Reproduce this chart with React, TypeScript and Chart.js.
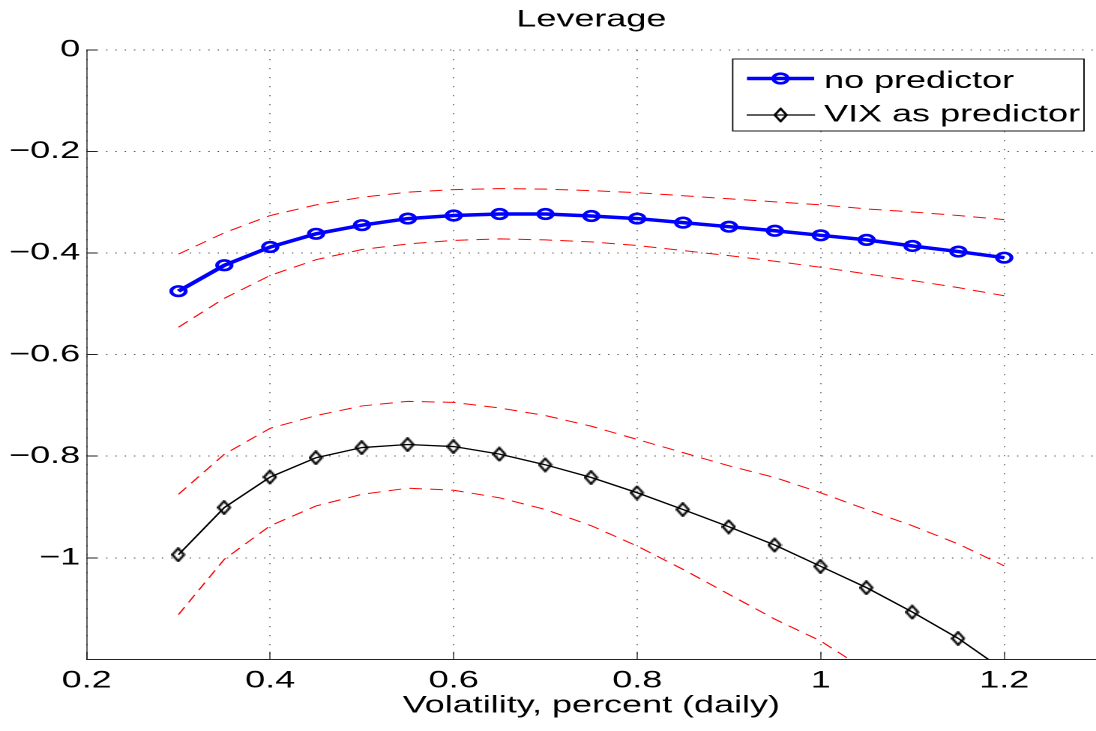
import React, { useEffect, useRef } from 'react';
import { Chart, registerables } from 'chart.js';

Chart.register(...registerables);

// ---------------- data ----------------
const chartTitle = 'Leverage';
const xAxisTitle = 'Volatility, percent (daily)';
const seriesNames = ['no predictor', 'VIX as predictor'];

const xValues = [0.3, 0.35, 0.4, 0.45, 0.5, 0.55, 0.6, 0.65, 0.7, 0.75, 0.8, 0.85, 0.9, 0.95, 1.0, 1.05, 1.1, 1.15, 1.2];

const noPredictor = [-0.475, -0.424, -0.388, -0.362, -0.345, -0.332, -0.326, -0.323, -0.323, -0.327, -0.332, -0.340, -0.348, -0.356, -0.365, -0.374, -0.386, -0.397, -0.409];
const noPredictorUpper = [-0.402, -0.360, -0.326, -0.305, -0.290, -0.280, -0.275, -0.273, -0.274, -0.277, -0.281, -0.287, -0.293, -0.299, -0.305, -0.313, -0.319, -0.326, -0.334];
const noPredictorLower = [-0.546, -0.489, -0.444, -0.413, -0.393, -0.382, -0.375, -0.372, -0.374, -0.378, -0.385, -0.395, -0.405, -0.416, -0.428, -0.441, -0.454, -0.468, -0.484];

const vixPredictor = [-0.994, -0.901, -0.841, -0.803, -0.783, -0.777, -0.781, -0.796, -0.817, -0.842, -0.872, -0.905, -0.939, -0.975, -1.017, -1.059, -1.107, -1.159, -1.222];
const vixUpper = [-0.875, -0.796, -0.745, -0.720, -0.701, -0.692, -0.694, -0.705, -0.720, -0.741, -0.767, -0.793, -0.819, -0.842, -0.872, -0.905, -0.937, -0.973, -1.016];
const vixLower = [-1.112, -1.003, -0.937, -0.898, -0.875, -0.863, -0.867, -0.882, -0.905, -0.937, -0.977, -1.023, -1.072, -1.121, -1.164, -1.222, null, null, null];

const xTickValues = [0.2, 0.4, 0.6, 0.8, 1.0, 1.2];
const xTickLabels = ['0.2', '0.4', '0.6', '0.8', '1', '1.2'];
const yTickValues = [0, -0.2, -0.4, -0.6, -0.8, -1.0];
const yTickLabels = ['0', '\u22120.2', '\u22120.4', '\u22120.6', '\u22120.8', '\u22121'];

// ---------------- layout / style ----------------
const CSS_W = 1096;
const CSS_H = 731;
const W = 731; // internal drawing width (stretched horizontally by CSS)
const H = 731;
const FONT = "'Liberation Sans', Arial, Helvetica, sans-serif";
const DIAMOND_W = 9.6;
const DIAMOND_H = 15;

function drawDiamond(k: number): HTMLCanvasElement {
  const c = document.createElement('canvas');
  c.width = Math.round(DIAMOND_W * k);
  c.height = Math.round(DIAMOND_H * k);
  const g = c.getContext('2d')!;
  g.scale(k, k);
  g.lineWidth = 1.7;
  g.strokeStyle = '#000';
  g.lineJoin = 'miter';
  g.beginPath();
  g.moveTo(DIAMOND_W / 2, 1.1);
  g.lineTo(DIAMOND_W - 0.9, DIAMOND_H / 2);
  g.lineTo(DIAMOND_W / 2, DIAMOND_H - 1.1);
  g.lineTo(0.9, DIAMOND_H / 2);
  g.closePath();
  g.stroke();
  return c;
}

const toPoints = (ys: (number | null)[]) => xValues.map((x, i) => ({ x, y: ys[i] }));

const legendPlugin = {
  id: 'boxLegend',
  afterDraw(chart: any) {
    const ctx: CanvasRenderingContext2D = chart.ctx;
    const bx = 488.7, by = 59, bw = 234.3, bh = 72;
    ctx.save();
    ctx.fillStyle = '#ffffff';
    ctx.fillRect(bx, by, bw, bh);
    ctx.strokeStyle = '#000';
    ctx.lineWidth = 0.9;
    ctx.strokeRect(bx, by, bw, bh);

    // row 1: blue line with circle
    ctx.strokeStyle = '#0000ff';
    ctx.lineWidth = 3.5;
    ctx.beginPath();
    ctx.moveTo(498.2, 78.5);
    ctx.lineTo(543, 78.5);
    ctx.stroke();
    ctx.lineWidth = 2.6;
    ctx.beginPath();
    ctx.arc(520.6, 78.5, 4.8, 0, Math.PI * 2);
    ctx.stroke();

    // row 2: black line with diamond
    ctx.strokeStyle = '#000';
    ctx.lineWidth = 1.3;
    ctx.beginPath();
    ctx.moveTo(498, 115);
    ctx.lineTo(543.6, 115);
    ctx.stroke();
    const st = chart.data.datasets[1].pointStyle;
    if (st) ctx.drawImage(st, 520.6 - DIAMOND_W / 2, 115 - DIAMOND_H / 2, DIAMOND_W, DIAMOND_H);

    ctx.fillStyle = '#000';
    ctx.font = `24px ${FONT}`;
    ctx.textAlign = 'left';
    ctx.textBaseline = 'alphabetic';
    ctx.fillText(chart.data.datasets[0].label, 549.6, 88);
    ctx.fillText(chart.data.datasets[1].label, 549.6, 121.7);
    ctx.restore();
  },
};

export default function App() {
  const ref = useRef<HTMLCanvasElement | null>(null);

  useEffect(() => {
    if (!ref.current) return;
    let cancelled = false;
    const lowRes = drawDiamond(1);

    const redDash = (label: string, ys: (number | null)[]) => ({
      label,
      data: toPoints(ys),
      borderColor: '#ff0000',
      borderWidth: 1,
      borderDash: [8.5, 5.5],
      pointRadius: 0,
      fill: false,
      clip: 0,
    });

    const chart = new Chart(ref.current, {
      type: 'line',
      data: {
        datasets: [
          {
            label: seriesNames[0],
            data: toPoints(noPredictor),
            borderColor: '#0000ff',
            borderWidth: 3.5,
            pointStyle: 'circle',
            pointRadius: 4.8,
            pointBorderWidth: 2.6,
            pointBorderColor: '#0000ff',
            pointBackgroundColor: 'rgba(0,0,0,0)',
            fill: false,
            clip: 0,
          } as any,
          {
            label: seriesNames[1],
            data: toPoints(vixPredictor),
            borderColor: '#000000',
            borderWidth: 1.3,
            pointStyle: lowRes,
            pointRadius: 7,
            pointBorderWidth: 1,
            pointBorderColor: '#000',
            pointBackgroundColor: 'rgba(0,0,0,0)',
            fill: false,
            clip: 0,
          } as any,
          redDash('no predictor upper', noPredictorUpper),
          redDash('no predictor lower', noPredictorLower),
          redDash('VIX upper', vixUpper),
          redDash('VIX lower', vixLower),
        ],
      },
      options: {
        animation: false,
        responsive: false,
        maintainAspectRatio: false,
        devicePixelRatio: 2,
        layout: { padding: 0, autoPadding: false },
        color: '#000',
        font: { family: FONT, size: 24 },
        plugins: {
          legend: { display: false },
          tooltip: { enabled: false },
          title: {
            display: true,
            fullSize: false,
            text: chartTitle,
            color: '#000',
            font: { family: FONT, size: 24, weight: 'normal', lineHeight: 1.2 },
            padding: { top: 5.6, bottom: 15.6 },
          },
        },
        scales: {
          x: {
            type: 'linear',
            min: 0.2,
            max: 1.3,
            afterFit: (s: any) => { s.height = 71.7; },
            afterBuildTicks: (s: any) => { s.ticks = xTickValues.map((v) => ({ value: v })); },
            ticks: {
              autoSkip: false,
              maxRotation: 0,
              color: '#000',
              padding: 14.6,
              font: { family: FONT, size: 24, lineHeight: 1.2 },
              callback: (_v: any, i: number) => xTickLabels[i],
            },
            grid: {
              color: '#505050',
              lineWidth: 0.7,
              drawTicks: true,
              tickLength: -7.6,
              tickColor: '#222',
              tickWidth: 0.7,
            },
            border: { display: true, color: '#222', width: 1, dash: [1.2, 7.8] },
            title: {
              display: true,
              text: xAxisTitle,
              color: '#000',
              font: { family: FONT, size: 24, lineHeight: 1.2 },
              padding: { top: 0, bottom: 10.8 },
            },
          },
          y: {
            type: 'linear',
            min: -1.2,
            max: 0,
            afterFit: (s: any) => { s.width = 57.83; },
            afterBuildTicks: (s: any) => { s.ticks = yTickValues.map((v) => ({ value: v })); },
            ticks: {
              autoSkip: false,
              color: '#000',
              padding: 11.1,
              font: { family: FONT, size: 24, lineHeight: 1.2 },
              callback: (_v: any, i: number) => yTickLabels[i],
            },
            grid: {
              color: '#505050',
              lineWidth: 1,
              drawTicks: true,
              tickLength: -6.7,
              tickColor: '#222',
              tickWidth: 1,
            },
            border: { display: true, color: '#222', width: 0.7, dash: [0.9, 5.3] },
          },
        },
      } as any,
      plugins: [legendPlugin],
    });

    // swap in a crisp high-resolution diamond marker once it is decoded
    const img = new Image();
    img.width = DIAMOND_W;
    img.height = DIAMOND_H;
    img.onload = () => {
      if (cancelled) return;
      (chart.data.datasets[1] as any).pointStyle = img;
      chart.update('none');
    };
    img.src = drawDiamond(4).toDataURL();

    return () => {
      cancelled = true;
      chart.destroy();
    };
  }, []);

  return (
    <div style={{ position: 'absolute', left: 0, top: 0, width: CSS_W, height: CSS_H, background: '#fff' }}>
      <canvas
        ref={ref}
        width={W}
        height={H}
        style={{ width: `${CSS_W}px`, height: `${CSS_H}px`, display: 'block' }}
      />
    </div>
  );
}
